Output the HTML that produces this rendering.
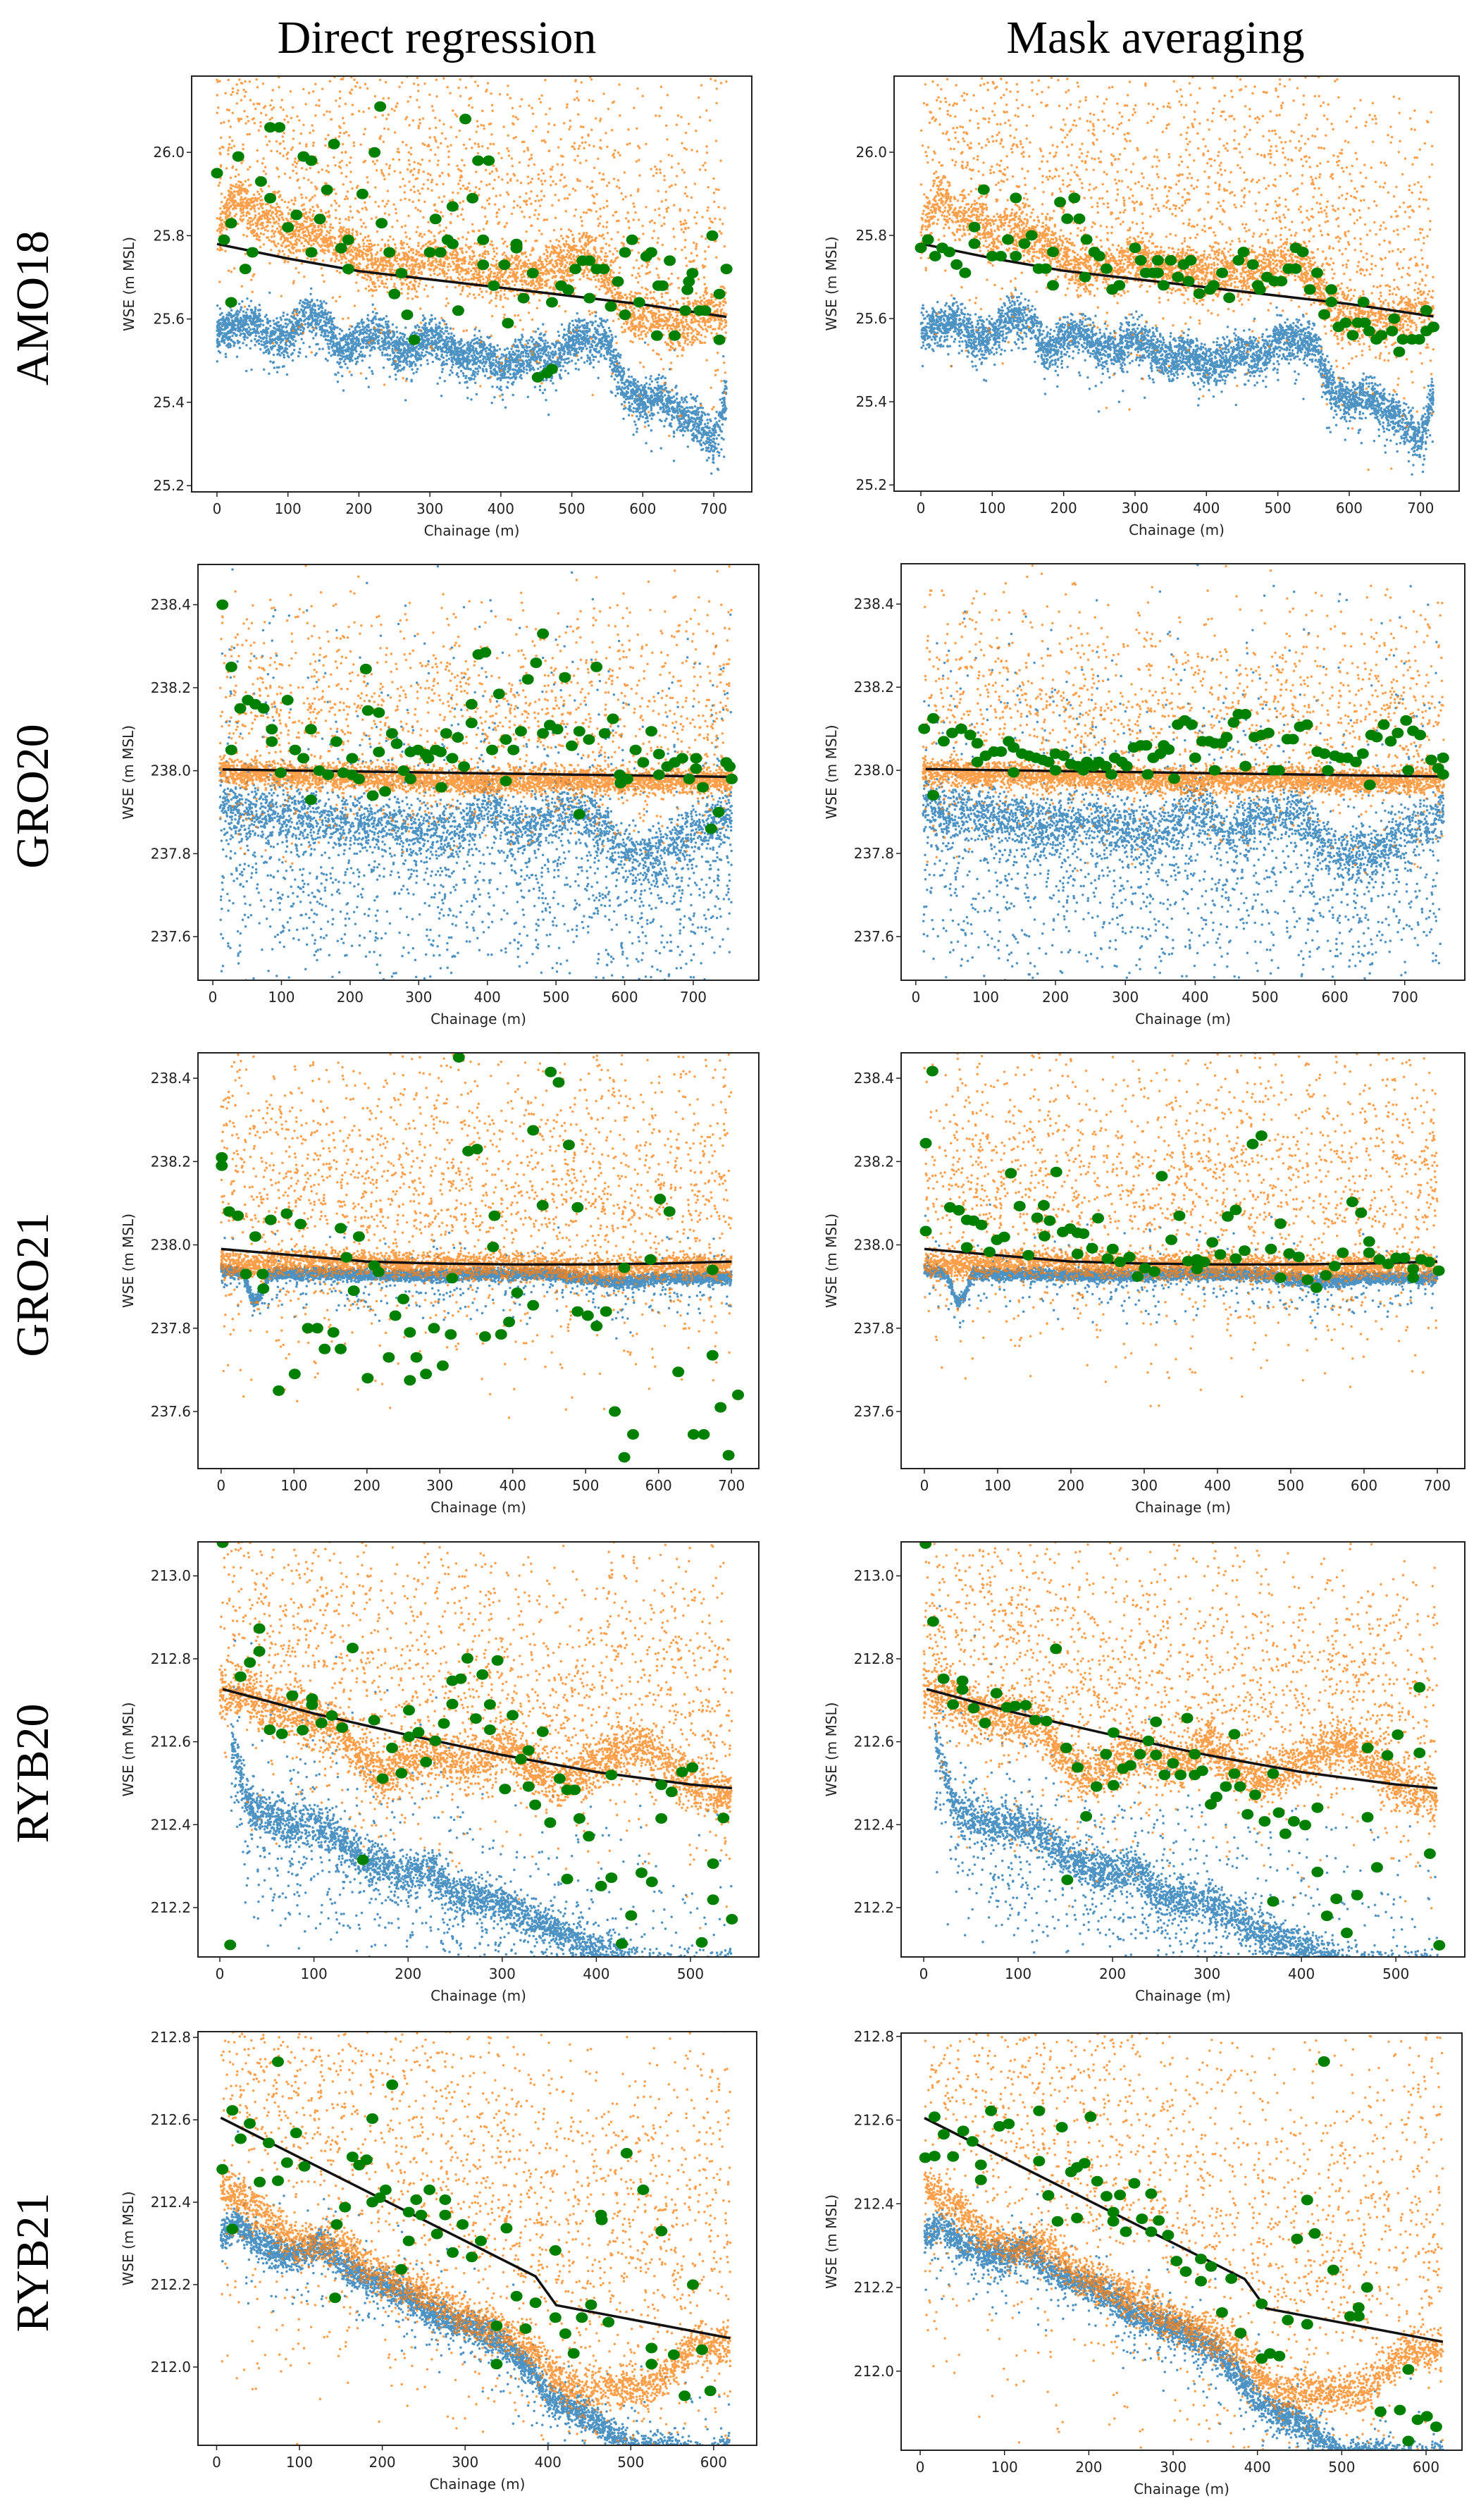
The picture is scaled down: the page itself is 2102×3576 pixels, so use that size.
<!DOCTYPE html>
<html><head><meta charset="utf-8"><title>WSE chainage panels</title>
<style>
html,body{margin:0;padding:0;background:#fff;}
#fig{display:block;}
.tick{font-family:"DejaVu Sans","Liberation Sans",sans-serif;font-size:20px;fill:#222;}
.axl{font-family:"DejaVu Sans","Liberation Sans",sans-serif;font-size:20px;fill:#222;}
.big{font-family:"Liberation Serif",serif;font-size:66px;fill:#000;}
</style></head>
<body>
<svg id="fig" xmlns="http://www.w3.org/2000/svg" width="2102" height="3576" viewBox="0 0 2102 3576">
<rect x="0" y="0" width="2102" height="3576" fill="#fff"/>
<text class="big" x="620" y="75" text-anchor="middle">Direct regression</text>
<text class="big" x="1640" y="75" text-anchor="middle">Mask averaging</text>
</svg>
<script>
// ---------- DATA ----------
const xTicks1=[0,100,200,300,400,500,600,700];
const yTicks1=[25.2,25.4,25.6,25.8,26.0];
const yTicks2=[237.6,237.8,238.0,238.2,238.4];
const yTicks3=[237.6,237.8,238.0,238.2,238.4];
const xTicks4=[0,100,200,300,400,500];
const yTicks4=[212.2,212.4,212.6,212.8,213.0];
const xTicks5=[0,100,200,300,400,500,600];
const yTicks5=[212.0,212.2,212.4,212.6,212.8];
const rowLabels=["AMO18","GRO20","GRO21","RYB20","RYB21"];

const amo18Line=[[0,25.78],[100,25.745],[200,25.715],[300,25.695],[400,25.675],[500,25.655],[600,25.635],[718,25.605]];
const amo18Blue=[[0,25.57],[25,25.58],[50,25.6],[75,25.55],[100,25.56],[125,25.61],[150,25.6],[175,25.52],[200,25.55],[225,25.57],[250,25.53],[275,25.52],[300,25.56],[325,25.53],[350,25.5],[375,25.52],[400,25.48],[425,25.5],[450,25.52],[475,25.5],[500,25.55],[525,25.55],[550,25.55],[575,25.43],[600,25.4],[625,25.42],[650,25.38],[675,25.36],[700,25.3],[718,25.42]];
const amo18Orange=[[0,25.8],[25,25.9],[50,25.85],[75,25.85],[100,25.8],[125,25.82],[150,25.8],[175,25.78],[200,25.75],[225,25.72],[250,25.73],[275,25.72],[300,25.75],[325,25.73],[350,25.72],[375,25.72],[400,25.7],[425,25.72],[450,25.7],[475,25.72],[500,25.75],[525,25.75],[550,25.7],[575,25.62],[600,25.6],[625,25.6],[650,25.58],[675,25.6],[700,25.62],[718,25.6]];
const amo18DirectGreen=[[0,25.95],[10,25.79],[20,25.83],[20,25.64],[30,25.99],[40,25.72],[50,25.76],[62,25.93],[75,25.89],[75,26.06],[88,26.06],[100,25.82],[112,25.85],[122,25.99],[133,25.98],[133,25.76],[145,25.84],[155,25.91],[165,26.02],[175,25.77],[185,25.72],[185,25.79],[205,25.90],[222,26.00],[230,26.11],[232,25.83],[243,25.76],[250,25.66],[260,25.71],[268,25.61],[278,25.55],[300,25.76],[308,25.84],[315,25.76],[325,25.79],[332,25.78],[332,25.87],[340,25.62],[350,26.08],[360,25.89],[368,25.98],[375,25.73],[375,25.79],[383,25.98],[390,25.68],[405,25.73],[410,25.59],[422,25.77],[422,25.78],[432,25.65],[445,25.71],[452,25.46],[465,25.47],[472,25.48],[472,25.64],[485,25.68],[495,25.67],[505,25.72],[515,25.74],[525,25.74],[525,25.65],[535,25.72],[545,25.72],[555,25.63],[565,25.69],[575,25.76],[575,25.61],[585,25.79],[595,25.64],[605,25.75],[612,25.76],[620,25.56],[622,25.68],[628,25.68],[638,25.74],[645,25.56],[660,25.62],[663,25.67],[665,25.69],[670,25.71],[680,25.62],[688,25.62],[698,25.80],[708,25.66],[708,25.55],[718,25.72]];
const amo18MaskGreen=[[0,25.77],[10,25.79],[20,25.75],[30,25.77],[40,25.76],[50,25.73],[62,25.71],[75,25.78],[75,25.82],[88,25.91],[100,25.75],[112,25.75],[122,25.79],[133,25.89],[133,25.75],[145,25.78],[155,25.80],[165,25.72],[175,25.72],[185,25.68],[185,25.76],[195,25.88],[205,25.84],[215,25.89],[222,25.84],[230,25.70],[232,25.79],[243,25.76],[250,25.75],[260,25.72],[268,25.67],[278,25.68],[300,25.77],[308,25.74],[315,25.71],[325,25.71],[332,25.71],[332,25.74],[340,25.68],[350,25.74],[360,25.70],[368,25.73],[375,25.69],[378,25.74],[390,25.66],[405,25.67],[410,25.68],[422,25.71],[432,25.65],[445,25.74],[452,25.76],[465,25.73],[472,25.68],[475,25.67],[485,25.70],[495,25.69],[505,25.69],[515,25.72],[525,25.77],[525,25.72],[535,25.76],[545,25.67],[555,25.71],[565,25.61],[575,25.67],[575,25.64],[585,25.58],[595,25.59],[605,25.56],[612,25.59],[620,25.64],[622,25.59],[628,25.57],[638,25.55],[645,25.56],[660,25.57],[663,25.6],[670,25.52],[675,25.55],[688,25.55],[698,25.55],[708,25.62],[708,25.57],[718,25.58]];

const gro20Line=[[14,238.003],[756,237.985]];
const gro20Blue=[[10,237.92],[50,237.9],[100,237.9],[150,237.88],[200,237.87],[250,237.88],[300,237.86],[350,237.85],[400,237.92],[450,237.85],[500,237.9],[550,237.9],[600,237.8],[650,237.8],[700,237.85],[756,237.9]];
const gro20Orange=[[10,238.0],[100,237.99],[200,237.985],[300,237.98],[400,237.975],[500,237.98],[600,237.975],[700,237.975],[756,237.98]];
const gro20DirectGreen=[[14,238.40],[27,238.25],[27,238.05],[40,238.15],[51,238.17],[62,238.16],[74,238.15],[86,238.10],[86,238.07],[99,237.995],[109,238.17],[120,238.05],[132,238.03],[143,238.10],[143,237.93],[155,238.0],[168,237.99],[180,238.07],[190,237.995],[203,238.03],[203,237.99],[213,237.98],[223,238.245],[226,238.145],[233,237.94],[242,238.14],[242,238.045],[251,237.95],[261,238.09],[268,238.065],[278,238.0],[288,238.045],[288,237.98],[299,238.05],[310,238.04],[314,238.03],[325,238.05],[332,238.045],[333,237.96],[340,238.09],[349,238.03],[357,238.08],[366,238.01],[377,238.16],[377,238.115],[387,238.28],[397,238.285],[407,238.05],[417,238.185],[427,238.075],[427,237.975],[438,238.05],[449,238.095],[459,238.22],[471,238.26],[481,238.33],[481,238.09],[491,238.11],[502,238.10],[513,238.225],[523,238.06],[534,238.095],[534,237.895],[548,238.075],[559,238.25],[571,238.09],[583,238.125],[593,237.99],[594,237.97],[604,237.98],[616,238.05],[627,238.02],[639,238.095],[650,238.04],[650,237.99],[662,238.01],[673,238.02],[684,238.03],[694,237.98],[704,238.03],[704,238.005],[714,237.96],[726,237.86],[737,237.90],[748,238.02],[753,238.01],[756,237.98]];
const gro20MaskGreen=[[12,238.10],[25,238.125],[25,237.94],[40,238.07],[52,238.09],[65,238.10],[78,238.085],[88,238.065],[88,238.02],[100,238.035],[112,238.045],[122,238.045],[133,238.07],[140,238.055],[140,237.995],[152,238.04],[162,238.035],[172,238.03],[182,238.025],[190,238.02],[200,238.04],[200,238.0],[212,238.035],[222,238.015],[232,238.01],[240,238.0],[245,238.02],[255,238.01],[262,238.02],[272,238.01],[280,237.99],[285,238.03],[295,238.02],[302,238.01],[312,238.055],[322,238.06],[330,238.06],[332,237.99],[340,238.03],[350,238.04],[355,238.06],[362,238.05],[370,237.98],[375,238.11],[385,238.12],[395,238.11],[400,238.03],[410,238.07],[420,238.07],[428,238.065],[428,238.0],[438,238.065],[445,238.08],[455,238.115],[462,238.135],[472,238.135],[472,238.01],[485,238.08],[495,238.085],[505,238.09],[512,238.0],[520,238.0],[532,238.075],[540,238.075],[550,238.105],[560,238.11],[575,238.045],[585,238.04],[590,238.0],[600,238.035],[608,238.03],[618,238.03],[630,238.02],[640,238.04],[650,237.965],[652,238.085],[660,238.08],[670,238.11],[680,238.07],[690,238.09],[702,238.12],[705,238.0],[712,238.095],[722,238.085],[738,238.025],[748,238.005],[755,238.03],[755,237.99]];

const gro21Line=[[0,237.99],[100,237.975],[200,237.96],[300,237.955],[400,237.953],[500,237.953],[600,237.955],[700,237.96]];
const gro21Blue=[[0,237.94],[30,237.93],[45,237.86],[55,237.88],[65,237.93],[150,237.93],[250,237.925],[350,237.93],[450,237.93],[500,237.92],[550,237.91],[600,237.92],[700,237.92]];
const gro21Orange=[[0,237.96],[50,237.95],[100,237.96],[200,237.955],[300,237.95],[400,237.95],[500,237.94],[600,237.95],[700,237.95]];
const gro21DirectGreen=[[1,238.21],[1,238.19],[11,238.08],[23,238.07],[34,237.93],[47,238.02],[57,237.93],[58,237.895],[68,238.06],[79,237.65],[90,238.075],[101,237.69],[109,238.05],[119,237.8],[132,237.8],[142,237.75],[154,237.79],[164,238.04],[164,237.75],[172,237.97],[182,237.89],[189,238.02],[201,237.68],[210,237.95],[216,237.935],[230,237.73],[239,237.83],[250,237.87],[259,237.79],[259,237.675],[268,237.73],[281,237.69],[292,237.8],[304,237.71],[315,237.785],[317,237.92],[326,238.45],[339,238.225],[351,238.23],[362,237.78],[373,237.995],[375,238.07],[384,237.785],[395,237.815],[406,237.885],[428,238.275],[428,237.855],[441,238.095],[452,238.415],[463,238.39],[477,238.24],[489,238.09],[489,237.84],[503,237.83],[515,237.805],[528,237.84],[540,237.60],[553,237.49],[553,237.945],[565,237.545],[589,237.965],[602,238.11],[615,238.08],[627,237.695],[648,237.545],[662,237.545],[674,237.94],[674,237.735],[685,237.61],[696,237.495],[709,237.64]];
const gro21MaskGreen=[[2,238.244],[2,238.033],[11,238.417],[35,238.09],[47,238.083],[58,238.06],[58,237.994],[67,238.058],[78,238.048],[89,237.983],[99,238.012],[109,238.019],[118,238.172],[130,238.093],[142,237.975],[154,238.065],[163,238.095],[164,238.021],[171,238.058],[180,238.175],[189,238.031],[199,238.039],[209,238.029],[209,237.978],[217,238.027],[229,237.992],[237,238.064],[250,237.967],[257,237.99],[267,237.959],[280,237.971],[291,237.924],[301,237.944],[314,237.936],[324,238.165],[337,238.012],[348,238.07],[360,237.961],[372,237.965],[372,237.942],[382,237.959],[393,238.006],[404,237.977],[414,238.068],[425,238.084],[425,237.967],[437,237.986],[448,238.242],[460,238.262],[473,237.99],[486,238.051],[486,237.921],[498,237.979],[511,237.971],[523,237.916],[535,237.897],[548,237.927],[560,237.949],[571,237.981],[584,238.103],[596,238.077],[607,238.008],[607,237.981],[621,237.965],[633,237.954],[644,237.969],[655,237.969],[667,237.942],[667,237.921],[678,237.965],[689,237.959],[702,237.938]];

const ryb20Line=[[3,212.727],[100,212.668],[200,212.616],[300,212.568],[400,212.527],[500,212.497],[544,212.488]];
const ryb20Blue=[[12,212.6],[20,212.55],[30,212.45],[50,212.42],[75,212.4],[100,212.4],[125,212.38],[150,212.32],[175,212.3],[200,212.28],[225,212.3],[250,212.23],[275,212.22],[300,212.22],[325,212.18],[350,212.15],[375,212.12],[400,212.1],[425,212.08],[450,212.05],[500,212.04],[544,212.05]];
const ryb20Orange=[[0,212.72],[25,212.72],[50,212.68],[75,212.67],[100,212.65],[125,212.64],[150,212.55],[175,212.52],[200,212.55],[225,212.58],[250,212.55],[275,212.55],[300,212.6],[325,212.55],[350,212.5],[375,212.52],[400,212.55],[425,212.58],[450,212.6],[475,212.55],[500,212.5],[525,212.48],[544,212.47]];
const ryb20DirectGreen=[[3,213.08],[11,212.11],[22,212.757],[32,212.791],[42,212.818],[42,212.873],[53,212.629],[66,212.619],[77,212.711],[88,212.628],[98,212.704],[98,212.689],[108,212.645],[119,212.663],[130,212.634],[141,212.826],[152,212.315],[164,212.652],[173,212.511],[183,212.585],[193,212.524],[201,212.676],[201,212.612],[211,212.623],[219,212.551],[229,212.602],[238,212.644],[247,212.747],[247,212.691],[256,212.752],[263,212.801],[272,212.656],[279,212.762],[287,212.69],[287,212.629],[295,212.796],[303,212.486],[311,212.664],[320,212.558],[328,212.579],[328,212.492],[335,212.448],[343,212.624],[351,212.405],[361,212.511],[369,212.269],[369,212.484],[377,212.484],[382,212.415],[392,212.372],[405,212.252],[416,212.52],[416,212.272],[427,212.113],[437,212.181],[448,212.284],[459,212.262],[469,212.496],[469,212.415],[480,212.479],[491,212.527],[502,212.538],[512,212.116],[524,212.306],[524,212.219],[535,212.416],[544,212.172]];
const ryb20MaskGreen=[[2,213.078],[10,212.89],[21,212.752],[31,212.69],[41,212.747],[41,212.726],[53,212.681],[65,212.645],[77,212.717],[88,212.683],[97,212.686],[108,212.688],[118,212.652],[130,212.65],[140,212.824],[151,212.585],[152,212.267],[163,212.538],[172,212.42],[183,212.492],[193,212.57],[201,212.622],[201,212.495],[211,212.535],[219,212.543],[229,212.57],[238,212.602],[246,212.648],[246,212.568],[255,212.52],[264,212.548],[272,212.52],[279,212.657],[287,212.57],[287,212.52],[295,212.53],[304,212.449],[310,212.467],[320,212.492],[329,212.618],[329,212.523],[335,212.492],[343,212.425],[351,212.472],[361,212.408],[370,212.523],[370,212.215],[376,212.429],[383,212.378],[392,212.408],[404,212.399],[417,212.441],[417,212.286],[427,212.18],[437,212.221],[448,212.139],[459,212.23],[470,212.418],[470,212.585],[480,212.297],[491,212.567],[502,212.617],[525,212.731],[525,212.573],[536,212.33],[546,212.109]];

const ryb21Line=[[5,212.605],[385,212.22],[410,212.15],[620,212.07]];
const ryb21Blue=[[5,212.32],[25,212.35],[50,212.3],[75,212.28],[100,212.27],[125,212.3],[150,212.25],[175,212.22],[200,212.2],[225,212.18],[250,212.14],[275,212.12],[300,212.1],[325,212.08],[350,212.05],[375,212.0],[400,211.93],[425,211.9],[450,211.88],[475,211.84],[500,211.8],[550,211.8],[600,211.78],[620,211.8]];
const ryb21Orange=[[5,212.45],[25,212.42],[50,212.38],[75,212.33],[100,212.3],[125,212.3],[150,212.3],[175,212.25],[200,212.22],[225,212.2],[250,212.18],[275,212.15],[300,212.12],[325,212.1],[350,212.08],[375,212.06],[400,212.0],[425,211.95],[450,211.95],[475,211.95],[500,211.95],[525,211.95],[550,212.0],[575,212.05],[600,212.05],[620,212.05]];
const ryb21DirectGreen=[[7,212.48],[19,212.623],[19,212.335],[29,212.554],[40,212.591],[52,212.449],[63,212.544],[74,212.741],[74,212.452],[85,212.496],[96,212.568],[106,212.487],[143,212.168],[145,212.346],[155,212.388],[164,212.51],[172,212.49],[181,212.503],[188,212.603],[188,212.4],[197,212.411],[204,212.43],[212,212.685],[223,212.237],[232,212.306],[232,212.376],[241,212.406],[247,212.369],[257,212.43],[266,212.323],[276,212.406],[276,212.369],[285,212.278],[297,212.346],[308,212.267],[319,212.306],[338,212.1],[338,212.007],[350,212.337],[362,212.172],[373,212.093],[385,212.156],[409,212.283],[409,212.12],[421,212.081],[431,212.033],[441,212.12],[452,212.151],[464,212.369],[465,212.357],[473,212.109],[495,212.519],[515,212.43],[525,212.046],[525,212.007],[537,212.33],[552,212.03],[565,211.93],[575,212.2],[586,212.042],[596,211.942]];
const ryb21MaskGreen=[[6,212.51],[17,212.514],[17,212.608],[28,212.566],[39,212.513],[51,212.574],[62,212.549],[72,212.493],[72,212.457],[84,212.622],[94,212.585],[105,212.591],[141,212.622],[141,212.502],[152,212.42],[163,212.358],[168,212.583],[179,212.476],[186,212.366],[186,212.487],[195,212.497],[202,212.608],[210,212.454],[221,212.418],[229,212.38],[229,212.358],[237,212.421],[244,212.333],[254,212.449],[263,212.364],[274,212.424],[274,212.333],[283,212.36],[294,212.325],[304,212.263],[315,212.238],[333,212.268],[333,212.215],[345,212.25],[358,212.14],[369,212.221],[380,212.091],[405,212.161],[405,212.03],[415,212.042],[426,212.036],[436,212.122],[447,212.316],[459,212.409],[459,212.112],[468,212.329],[479,212.74],[490,212.242],[510,212.131],[520,212.152],[520,212.131],[530,212.2],[546,211.903],[569,211.907],[579,212.004],[579,211.833],[590,211.884],[601,211.892],[612,211.867]];

// ---------- PANEL LAYOUT (pixel boxes, axis limits, styling) ----------
const panels=[
 {id:"amo18-direct",row:0,col:0,box:[272,108,1067,698],xlim:[-35.7,753.6],ylim:[25.185,26.183],xt:xTicks1,yt:yTicks1,green:amo18DirectGreen,line:amo18Line,blue:amo18Blue,orange:amo18Orange,st:{os:0.05,osp:0.17,of:0.35,bs:0.04,bsp:0.03,bf:0.06,bup:0.1}},
 {id:"amo18-mask",row:0,col:1,box:[1269,108,2071,697],xlim:[-37.5,754],ylim:[25.185,26.183],xt:xTicks1,yt:yTicks1,green:amo18MaskGreen,line:amo18Line,blue:amo18Blue,orange:amo18Orange,st:{os:0.05,osp:0.17,of:0.35,bs:0.04,bsp:0.03,bf:0.06,bup:0.1}},
 {id:"gro20-direct",row:1,col:0,box:[281,801,1077,1391],xlim:[-21.6,795.5],ylim:[237.495,238.497],xt:xTicks1,yt:yTicks2,green:gro20DirectGreen,line:gro20Line,blue:gro20Blue,orange:gro20Orange,st:{os:0.025,osp:0.12,of:0.3,bs:0.05,bsp:0.12,bf:0.4,bup:0.25}},
 {id:"gro20-mask",row:1,col:1,box:[1279,800,2079,1391],xlim:[-21,786],ylim:[237.495,238.497],xt:xTicks1,yt:yTicks2,green:gro20MaskGreen,line:gro20Line,blue:gro20Blue,orange:gro20Orange,st:{os:0.025,osp:0.12,of:0.3,bs:0.05,bsp:0.12,bf:0.4,bup:0.25}},
 {id:"gro21-direct",row:2,col:0,box:[281,1494,1077,2084],xlim:[-31.7,737.5],ylim:[237.463,238.461],xt:xTicks1,yt:yTicks3,green:gro21DirectGreen,line:gro21Line,blue:gro21Blue,orange:gro21Orange,st:{os:0.025,osp:0.17,of:0.4,bs:0.012,bsp:0.03,bf:0.08,bup:0.2}},
 {id:"gro21-mask",row:2,col:1,box:[1279,1494,2079,2084],xlim:[-31.7,737.5],ylim:[237.463,238.461],xt:xTicks1,yt:yTicks3,green:gro21MaskGreen,line:gro21Line,blue:gro21Blue,orange:gro21Orange,st:{os:0.025,osp:0.17,of:0.4,bs:0.012,bsp:0.03,bf:0.08,bup:0.2}},
 {id:"ryb20-direct",row:3,col:0,box:[281,2188,1077,2777],xlim:[-23.2,572.6],ylim:[212.081,213.082],xt:xTicks4,yt:yTicks4,green:ryb20DirectGreen,line:ryb20Line,blue:ryb20Blue,orange:ryb20Orange,st:{os:0.05,osp:0.17,of:0.35,bs:0.04,bsp:0.08,bf:0.25,bup:0.3}},
 {id:"ryb20-mask",row:3,col:1,box:[1279,2188,2079,2777],xlim:[-23.9,573],ylim:[212.081,213.082],xt:xTicks4,yt:yTicks4,green:ryb20MaskGreen,line:ryb20Line,blue:ryb20Blue,orange:ryb20Orange,st:{os:0.05,osp:0.17,of:0.35,bs:0.04,bsp:0.08,bf:0.25,bup:0.3}},
 {id:"ryb21-direct",row:4,col:0,box:[281,2883,1074,3470],xlim:[-22.5,652],ylim:[211.81,212.814],xt:xTicks5,yt:yTicks5,green:ryb21DirectGreen,line:ryb21Line,blue:ryb21Blue,orange:ryb21Orange,st:{os:0.04,osp:0.25,of:0.45,bs:0.03,bsp:0.04,bf:0.1,bup:0.3}},
 {id:"ryb21-mask",row:4,col:1,box:[1279,2885,2075,3477],xlim:[-22.6,642.6],ylim:[211.811,212.808],xt:xTicks5,yt:yTicks5,green:ryb21MaskGreen,line:ryb21Line,blue:ryb21Blue,orange:ryb21Orange,st:{os:0.04,osp:0.25,of:0.45,bs:0.03,bsp:0.04,bf:0.1,bup:0.3}}
];

const NS="http://www.w3.org/2000/svg";
const svg=document.getElementById('fig');
function mk(tag,parent){const e=document.createElementNS(NS,tag);(parent||svg).appendChild(e);return e;}
// deterministic texture generator for cloud scatter around read centre lines
let seed=12345;
function rnd(){seed|=0;seed=seed+0x6D2B79F5|0;let t=Math.imul(seed^seed>>>15,1|seed);t=t+Math.imul(t^t>>>7,61|t)^t;return((t^t>>>14)>>>0)/4294967296;}
function gauss(){return (rnd()+rnd()+rnd()-1.5)/0.5;}
function interp(arr,x){
  if(x<=arr[0][0])return arr[0][1];
  for(let i=1;i<arr.length;i++){if(x<=arr[i][0]){const a=arr[i-1],b=arr[i];return a[1]+(b[1]-a[1])*(x-a[0])/(b[0]-a[0]);}}
  return arr[arr.length-1][1];
}

rowLabels.forEach((lab,i)=>{
  const p=panels[i*2];
  const cy=(p.box[1]+p.box[3])/2+34;
  const t=mk('text');
  
  
  t.setAttribute('class','big');
  t.setAttribute('text-anchor','middle');
  t.setAttribute('transform','translate(68,'+cy+') rotate(-90)');
  t.textContent=lab;
});

panels.forEach((p,pi)=>{
  seed=1000+pi*7919;
  const [L,T,R,B]=p.box;
  const sx=v=>L+(v-p.xlim[0])/(p.xlim[1]-p.xlim[0])*(R-L);
  const sy=v=>B-(v-p.ylim[0])/(p.ylim[1]-p.ylim[0])*(B-T);
  const g=mk('g');
  
  
  const cp=mk('clipPath',g);cp.setAttribute('id','clip'+pi);
  const cr=mk('rect',cp);cr.setAttribute('x',L);cr.setAttribute('y',T);cr.setAttribute('width',R-L);cr.setAttribute('height',B-T);
  const plot=mk('g',g);plot.setAttribute('clip-path','url(#clip'+pi+')');
  
  

  const x0=p.blue[0][0],x1=p.blue[p.blue.length-1][0];
  const ox0=p.orange[0][0],ox1=p.orange[p.orange.length-1][0];
  const st=p.st;
  const yr=p.ylim[1]-p.ylim[0];
  let db='';
  const nb=4200;
  for(let i=0;i<nb;i++){
    const x=x0+(x1-x0)*rnd();
    const c=interp(p.blue,x);
    let y;
    const r=rnd();
    if(r<st.bf){ y=c-Math.abs(gauss())*st.bsp*1.5 - st.bs*rnd(); if(rnd()<st.bup) y=c+Math.abs(gauss())*st.bsp*2; }
    else y=c+gauss()*st.bs*0.6;
    db+='M'+sx(x).toFixed(1)+' '+sy(y).toFixed(1)+'h0';
  }
  const pb=mk('path',plot);
  
  
  pb.setAttribute('d',db);pb.setAttribute('stroke','#1f77b4');pb.setAttribute('stroke-width','3.5');pb.setAttribute('stroke-linecap','round');pb.setAttribute('stroke-opacity','0.8');pb.setAttribute('fill','none');
  let dor='';
  const no=4800;
  for(let i=0;i<no;i++){
    const x=ox0+(ox1-ox0)*rnd();
    const c=interp(p.orange,x);
    let y;
    if(rnd()<st.of){ y=c+Math.abs(gauss())*st.osp*1.4+rnd()*yr*0.25*(st.osp>0.2?1:0.5); if(rnd()<0.15)y=c-Math.abs(gauss())*st.osp*0.8; }
    else y=c+gauss()*st.os*0.6;
    dor+='M'+sx(x).toFixed(1)+' '+sy(y).toFixed(1)+'h0';
  }
  const po=mk('path',plot);
  
  
  po.setAttribute('d',dor);po.setAttribute('stroke','#ff7f0e');po.setAttribute('stroke-width','3.5');po.setAttribute('stroke-linecap','round');po.setAttribute('stroke-opacity','0.75');po.setAttribute('fill','none');
  const pl=mk('polyline',plot);
  
  
  pl.setAttribute('points',p.line.map(d=>sx(d[0]).toFixed(1)+','+sy(d[1]).toFixed(1)).join(' '));
  pl.setAttribute('fill','none');pl.setAttribute('stroke','#111');pl.setAttribute('stroke-width','3.5');
  p.green.forEach(d=>{
    const c=mk('ellipse',plot);
    
    
    c.setAttribute('cx',sx(d[0]).toFixed(1));c.setAttribute('cy',sy(d[1]).toFixed(1));
    c.setAttribute('rx','8.5');c.setAttribute('ry','7.5');c.setAttribute('fill','#008000');
  });
  const fr=mk('rect',g);
  
  
  fr.setAttribute('x',L);fr.setAttribute('y',T);fr.setAttribute('width',R-L);fr.setAttribute('height',B-T);
  fr.setAttribute('fill','none');fr.setAttribute('stroke','#222');fr.setAttribute('stroke-width','2');
  p.xt.forEach(v=>{
    const X=sx(v);
    const tk=mk('line',g);
    
    
    tk.setAttribute('x1',X);tk.setAttribute('x2',X);tk.setAttribute('y1',B);tk.setAttribute('y2',B+7);tk.setAttribute('stroke','#222');tk.setAttribute('stroke-width','1.5');
    const t=mk('text',g);
    
    
    t.setAttribute('class','tick');t.setAttribute('x',X);t.setAttribute('y',B+31);t.setAttribute('text-anchor','middle');
    t.textContent=String(v);
  });
  p.yt.forEach(v=>{
    const Y=sy(v);
    const tk=mk('line',g);
    
    
    tk.setAttribute('x1',L-7);tk.setAttribute('x2',L);tk.setAttribute('y1',Y);tk.setAttribute('y2',Y);tk.setAttribute('stroke','#222');tk.setAttribute('stroke-width','1.5');
    const t=mk('text',g);
    
    
    t.setAttribute('class','tick');t.setAttribute('x',L-10);t.setAttribute('y',Y+7);t.setAttribute('text-anchor','end');
    t.textContent=v.toFixed(1);
  });
  const xl=mk('text',g);
  
  
  xl.setAttribute('class','axl');xl.setAttribute('x',(L+R)/2);xl.setAttribute('y',B+62);xl.setAttribute('text-anchor','middle');
  xl.textContent='Chainage (m)';
  const yl=mk('text',g);
  
  
  yl.setAttribute('class','axl');yl.setAttribute('text-anchor','middle');
  const ylx=L-(p.yt[0]>100?92:82);
  yl.setAttribute('transform','translate('+ylx+','+((T+B)/2)+') rotate(-90)');
  yl.textContent='WSE (m MSL)';
});
</script>
</body></html>
